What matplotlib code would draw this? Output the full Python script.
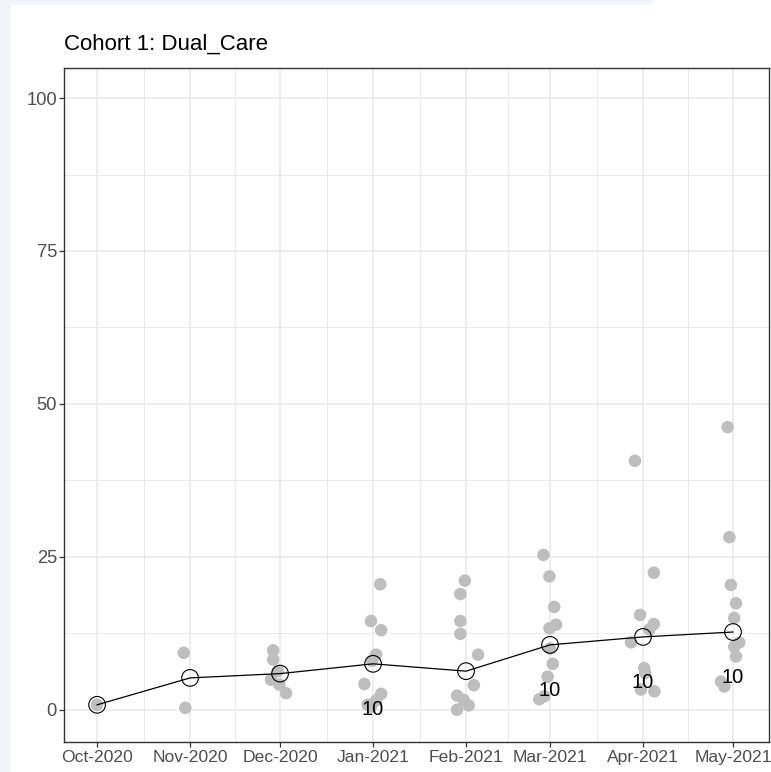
import matplotlib
matplotlib.use("Agg")
import matplotlib.pyplot as plt
import matplotlib.dates as mdates
from matplotlib.patches import Polygon
import numpy as np
from datetime import datetime

plt.rcParams['font.family'] = ['Liberation Sans', 'DejaVu Sans']

# monthly summary
months = ['2020-10-01', '2020-11-01', '2020-12-01', '2021-01-01',
          '2021-02-01', '2021-03-01', '2021-04-01', '2021-05-01']
month_means = [0.8, 5.2, 5.9, 7.5, 6.3, 10.6, 11.9, 12.7]
n_labels = ['', '', '', '10', '', '10', '10', '10']

# individual participants: month index, jitter (days), value
pt_month = [0,
            1, 1,
            2, 2, 2, 2, 2, 2,
            3, 3, 3, 3, 3, 3, 3, 3, 3, 3,
            4, 4, 4, 4, 4, 4, 4, 4, 4, 4,
            5, 5, 5, 5, 5, 5, 5, 5, 5, 5,
            6, 6, 6, 6, 6, 6, 6, 6, 6, 6,
            7, 7, 7, 7, 7, 7, 7, 7, 7, 7]
pt_jitter = [0.0,
             -2.1, -1.6,
             -2.3, -2.3, -0.8, -3.0, -0.2, 2.0,
             2.4, -0.7, 2.7, 1.0, -0.3, -2.9, 2.7, -1.8, -0.7, 1.0,
             -0.4, -1.9, -1.9, -1.9, 4.0, 2.6, -3.0, 0.9, -3.0, -0.8,
             -2.2, -0.2, 1.4, 2.0, -0.2, 0.0, 0.9, -0.8, -1.9, -3.6,
             -2.7, 3.6, -1.0, 3.6, 2.1, -4.0, 0.4, 0.7, -0.7, 3.8,
             -1.8, -1.2, -0.7, 1.0, 0.4, 2.1, 0.4, 1.0, -4.0, -2.9]
pt_value = [0.8,
            9.3, 0.3,
            9.7, 8.2, 6.3, 4.9, 4.1, 2.7,
            20.5, 14.5, 13.0, 9.0, 8.0, 4.2, 2.6, 0.8, 0.5, 1.5,
            21.1, 18.9, 14.5, 12.4, 9.0, 4.0, 2.3, 0.7, 0.0, 1.6,
            25.3, 21.8, 16.8, 13.9, 13.3, 10.0, 7.5, 5.4, 2.2, 1.7,
            40.7, 22.4, 15.5, 14.0, 13.1, 11.0, 6.8, 6.0, 3.3, 3.0,
            46.2, 28.2, 20.4, 17.4, 15.0, 11.0, 10.3, 8.7, 4.6, 3.8]

month_dates = [datetime.strptime(m, '%Y-%m-%d') for m in months]
month_nums = mdates.date2num(month_dates)
pt_x = np.array([month_nums[m] for m in pt_month]) + np.array(pt_jitter)

W, H = 771, 772
fig = plt.figure(figsize=(W / 100, H / 100), dpi=100)
fig.patch.set_facecolor('white')

# pale page strips along the left and top edges
strip = '#f1f4f8'
fig.patches.append(Polygon([(0, 0), (11 / W, 0), (11 / W, 1), (0, 1)],
                           closed=True, transform=fig.transFigure,
                           facecolor=strip, edgecolor='none'))
fig.patches.append(Polygon([(0, 1 - 5 / H), (650 / W, 1 - 5 / H), (655 / W, 1), (0, 1)],
                           closed=True, transform=fig.transFigure,
                           facecolor=strip, edgecolor='none'))

left, right, top, bottom = 63.5, 769, 67.5, 741.5
ax = fig.add_axes([left / W, (H - bottom) / H, (right - left) / W, (bottom - top) / H])
ax.set_facecolor('white')

# grid
for v in [12.5, 37.5, 62.5, 87.5]:
    ax.axhline(v, color='#ebebeb', lw=0.7, zorder=0)
for v in [0, 25, 50, 75, 100]:
    ax.axhline(v, color='#ebebeb', lw=1.2, zorder=0)
for a, b in zip(month_nums[:-1], month_nums[1:]):
    ax.axvline((a + b) / 2, color='#ebebeb', lw=0.7, zorder=0)
for m in month_nums:
    ax.axvline(m, color='#ebebeb', lw=1.2, zorder=0)

ax.scatter(pt_x, pt_value, s=9 ** 2, color='#bebebe', edgecolors='none', zorder=2)
ax.plot(month_nums, month_means, color='black', lw=0.9, zorder=3)
ax.scatter(month_nums, month_means, s=12 ** 2, facecolors='none',
           edgecolors='black', linewidths=0.8, zorder=4)

for x, y, lab in zip(month_nums, month_means, n_labels):
    if lab:
        ax.text(x, y - 7.4, lab, ha='center', va='center', fontsize=14.5,
                color='black', zorder=5)

ax.set_xlim(month_nums[0] - 11.2, month_nums[-1] + 12)
ax.set_ylim(-5.2, 105)
ax.set_xticks(month_nums)
ax.set_xticklabels([d.strftime('%b-%Y') for d in month_dates])
ax.set_yticks([0, 25, 50, 75, 100])
ax.tick_params(axis='both', labelcolor='#4d4d4d', color='#333333',
               length=3.5, width=0.9)
ax.tick_params(axis='x', pad=2.5, labelsize=12.6)
ax.tick_params(axis='y', pad=1.2, labelsize=13.2)

for s in ax.spines.values():
    s.set_color('#333333')
    s.set_linewidth(1.0)

fig.text(64 / W, 1 - 50 / H, 'Cohort 1: Dual_Care', fontsize=16,
         ha='left', va='baseline', color='black')

fig.savefig('out.png', dpi=100)
